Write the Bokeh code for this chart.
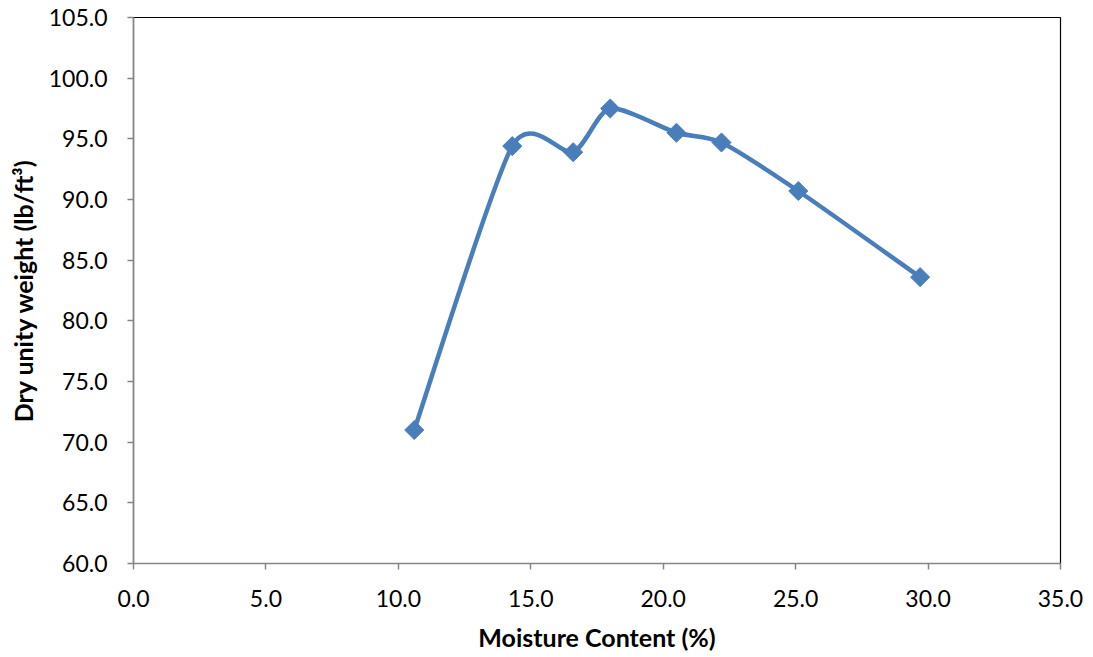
import numpy as np
from bokeh.plotting import figure
from bokeh.models import Range1d, FixedTicker, PrintfTickFormatter
from bokeh.embed import file_html
from bokeh.resources import INLINE

moisture = [10.6, 14.3, 16.6, 18.0, 20.5, 22.2, 25.1, 29.7]
dry_weight = [71.0, 94.4, 93.9, 97.5, 95.5, 94.7, 90.7, 83.6]

X0, X1, Y0, Y1 = 0.0, 35.0, 60.0, 105.0
FW, FH = 927, 546
COLOR = "#4A7EBB"
FONT = "Lato"
TENSION = 0.12

p = figure(output_backend="svg", toolbar_location=None,
           x_range=Range1d(X0, X1), y_range=Range1d(Y0, Y1),
           frame_width=FW, frame_height=FH,
           min_border_left=133, min_border_top=17, min_border_right=25, min_border_bottom=88)
p.grid.visible = False
p.outline_line_color = "black"
p.outline_line_width = 1.2

# Excel-like smoothed curve: cubic Bezier (Catmull-Rom style) in screen space
sx = np.array(moisture) * FW / (X1 - X0)
sy = (np.array(dry_weight) - Y0) * FH / (Y1 - Y0)
n = len(sx)
x0s, y0s, x1s, y1s, c0x, c0y, c1x, c1y = [], [], [], [], [], [], [], []
tx = lambda v: v * (X1 - X0) / FW
ty = lambda v: v * (Y1 - Y0) / FH + Y0
for i in range(n - 1):
    pm = (sx[max(i - 1, 0)], sy[max(i - 1, 0)])
    pa = (sx[i], sy[i])
    pb = (sx[i + 1], sy[i + 1])
    pn = (sx[min(i + 2, n - 1)], sy[min(i + 2, n - 1)])
    ca = (pa[0] + (pb[0] - pm[0]) * TENSION, pa[1] + (pb[1] - pm[1]) * TENSION)
    cb = (pb[0] - (pn[0] - pa[0]) * TENSION, pb[1] - (pn[1] - pa[1]) * TENSION)
    x0s.append(tx(pa[0])); y0s.append(ty(pa[1]))
    x1s.append(tx(pb[0])); y1s.append(ty(pb[1]))
    c0x.append(tx(ca[0])); c0y.append(ty(ca[1]))
    c1x.append(tx(cb[0])); c1y.append(ty(cb[1]))

p.bezier(x0=x0s, y0=y0s, x1=x1s, y1=y1s, cx0=c0x, cy0=c0y, cx1=c1x, cy1=c1y,
         line_color=COLOR, line_width=4.5)
p.scatter(moisture, dry_weight, marker="square", angle=np.pi / 4, size=13.5,
          fill_color=COLOR, line_color=COLOR)

for ax in (p.xaxis[0], p.yaxis[0]):
    ax.axis_line_color = "#868686"
    ax.axis_line_width = 1.5
    ax.major_tick_line_color = "#868686"
    ax.major_tick_line_width = 1.5
    ax.major_tick_in = 0
    ax.major_tick_out = 6
    ax.minor_tick_line_color = None
    ax.major_label_text_font = FONT
    ax.major_label_text_font_size = "23px"
    ax.major_label_text_color = "black"
    ax.axis_label_text_font = FONT
    ax.axis_label_text_font_size = "25px"
    ax.axis_label_text_font_style = "bold"
    ax.axis_label_text_color = "black"

p.xaxis.ticker = FixedTicker(ticks=list(np.arange(0, 35.1, 5.0)))
p.yaxis.ticker = FixedTicker(ticks=list(np.arange(60, 105.1, 5.0)))
p.xaxis.formatter = PrintfTickFormatter(format="%.1f")
p.yaxis.formatter = PrintfTickFormatter(format="%.1f")
p.xaxis.axis_label = "Moisture Content (%)"
p.yaxis.axis_label = "Dry unity weight (lb/ft³)"
p.xaxis.major_label_standoff = 20
p.yaxis.major_label_standoff = 20
p.xaxis.axis_label_standoff = 12
p.yaxis.axis_label_standoff = 8

open("out.html", "w").write(file_html(p, INLINE))
